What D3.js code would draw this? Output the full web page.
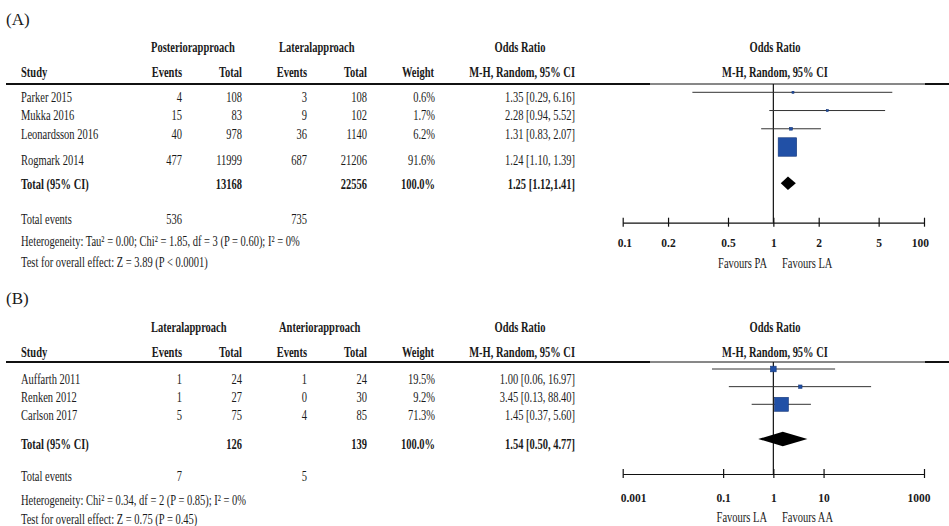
<!DOCTYPE html>
<html><head><meta charset="utf-8">
<script src="https://cdn.jsdelivr.net/npm/d3@7"></script>
<style>
html,body{margin:0;padding:0;background:#fff;}
svg{display:block;}
text{font-family:"Liberation Serif","Times New Roman",serif;fill:#1a1a1a;}
</style></head>
<body>
<svg id="c" width="949" height="526"></svg>
<script>
// ---------- DATA: Panel A (Posterior vs Lateral) ----------
const studiesA   = ["Parker 2015","Mukka 2016","Leonardsson 2016","Rogmark 2014"];
const eventsPA   = [4, 15, 40, 477];
const totalPA    = [108, 83, 978, 11999];
const eventsLA_A = [3, 9, 36, 687];
const totalLA_A  = [108, 102, 1140, 21206];
const weightA    = [0.6, 1.7, 6.2, 91.6];
const orA        = [1.35, 2.28, 1.31, 1.24];
const loA        = [0.29, 0.94, 0.83, 1.10];
const hiA        = [6.16, 5.52, 2.07, 1.39];
const pooledA    = [1.25, 1.12, 1.41];
const totalsA    = [13168, 22556];
const totWeightA = 100.0;
const totEventsA = [536, 735];
const groupsA    = ["Posteriorapproach", "Lateralapproach"];
const hetA       = "Heterogeneity: Tau² = 0.00; Chi² = 1.85, df = 3 (P = 0.60); I² = 0%";
const testA      = "Test for overall effect: Z = 3.89 (P < 0.0001)";
const ticksA     = [0.1, 0.2, 0.5, 1, 2, 5, 10];
const tickLabA   = ["0.1", "0.2", "0.5", "1", "2", "5", "100"];
const favoursA   = ["Favours PA", "Favours LA"];

// ---------- DATA: Panel B (Lateral vs Anterior) ----------
const studiesB   = ["Auffarth 2011","Renken 2012","Carlson 2017"];
const eventsLA_B = [1, 1, 5];
const totalLA_B  = [24, 27, 75];
const eventsAA   = [1, 0, 4];
const totalAA    = [24, 30, 85];
const weightB    = [19.5, 9.2, 71.3];
const orB        = [1.00, 3.45, 1.45];
const loB        = [0.06, 0.13, 0.37];
const hiB        = [16.97, 88.40, 5.60];
const pooledB    = [1.54, 0.50, 4.77];
const totalsB    = [126, 139];
const totWeightB = 100.0;
const totEventsB = [7, 5];
const groupsB    = ["Lateralapproach", "Anteriorapproach"];
const hetB       = "Heterogeneity: Chi² = 0.34, df = 2 (P = 0.85); I² = 0%";
const testB      = "Test for overall effect: Z = 0.75 (P = 0.45)";
const ticksB     = [0.001, 0.1, 1, 10, 1000];
const tickLabB   = ["0.001", "0.1", "1", "10", "1000"];
const favoursB   = ["Favours LA", "Favours AA"];

// ---------- DRAWING ----------
const svg = d3.select("#c");
const SX = 0.70, FS = 15;
const f2 = d3.format(".2f"), f1 = d3.format(".1f");

function txt(g, x, y, s, o = {}) {
  return g.append("text")
    .attr("transform", `translate(${x},${y}) scale(${o.sx ?? SX},1)`)
    .attr("text-anchor", o.anchor || "start")
    .attr("font-size", o.size || FS)
    .attr("font-weight", o.bold ? "bold" : "normal")
    .text(s);
}

function panel(p) {
  const g = svg.append("g");
  const L = p.L;
  // panel label
  txt(g, 6, L.label, p.name, {sx: 1, size: 17});
  // group headers
  txt(g, 151, L.group, p.groups[0], {bold: true});
  txt(g, 279, L.group, p.groups[1], {bold: true});
  txt(g, 520, L.group, "Odds Ratio", {bold: true, anchor: "middle"});
  txt(g, 775, L.group, "Odds Ratio", {bold: true, anchor: "middle"});
  // column headers
  txt(g, 21, L.head, "Study", {bold: true});
  txt(g, 182, L.head, "Events", {bold: true, anchor: "end"});
  txt(g, 242, L.head, "Total", {bold: true, anchor: "end"});
  txt(g, 307, L.head, "Events", {bold: true, anchor: "end"});
  txt(g, 367, L.head, "Total", {bold: true, anchor: "end"});
  txt(g, 434, L.head, "Weight", {bold: true, anchor: "end"});
  txt(g, 575, L.head, "M-H, Random, 95% CI", {bold: true, anchor: "end"});
  txt(g, 775, L.head, "M-H, Random, 95% CI", {bold: true, anchor: "middle"});
  // header rule
  g.append("line").attr("x1", 6).attr("x2", 650).attr("y1", L.rule).attr("y2", L.rule)
    .attr("stroke", "#111").attr("stroke-width", 2);
  g.append("line").attr("x1", 650).attr("x2", 925).attr("y1", L.rule).attr("y2", L.rule)
    .attr("stroke", "#111").attr("stroke-width", 1);
  g.append("line").attr("x1", 925).attr("x2", 949).attr("y1", L.rule).attr("y2", L.rule)
    .attr("stroke", "#111").attr("stroke-width", 2);

  // study rows (text)
  p.studies.forEach((s, i) => {
    const y = L.rows[i];
    txt(g, 21, y, s);
    txt(g, 182, y, p.e1[i], {anchor: "end"});
    txt(g, 242, y, p.t1[i], {anchor: "end"});
    txt(g, 307, y, p.e2[i], {anchor: "end"});
    txt(g, 367, y, p.t2[i], {anchor: "end"});
    txt(g, 435, y, f1(p.w[i]) + "%", {anchor: "end"});
    txt(g, 575, y, `${f2(p.or[i])} [${f2(p.lo[i])}, ${f2(p.hi[i])}]`, {anchor: "end"});
  });
  // total row
  txt(g, 21, L.total, "Total (95% CI)", {bold: true});
  txt(g, 242, L.total, p.totals[0], {bold: true, anchor: "end"});
  txt(g, 367, L.total, p.totals[1], {bold: true, anchor: "end"});
  txt(g, 435, L.total, f1(p.totW) + "%", {bold: true, anchor: "end"});
  txt(g, 575, L.total, `${f2(p.pooled[0])} [${f2(p.pooled[1])},${p.sep}${f2(p.pooled[2])}]`, {bold: true, anchor: "end"});
  // total events / heterogeneity / test
  txt(g, 21, L.tev, "Total events");
  txt(g, 182, L.tev, p.tev[0], {anchor: "end"});
  txt(g, 307, L.tev, p.tev[1], {anchor: "end"});
  txt(g, 21, L.het, p.het);
  txt(g, 21, L.test, p.test);

  // ---- forest plot ----
  const x = d3.scaleLog().domain(p.domain).range([622.7, 924]);
  const y = d3.scalePoint().domain(p.studies).range(L.plotRows);
  const size = d3.scalePow().exponent(0.7).domain([0, d3.max(p.w)]).range([0, L.maxBox]);
  const rows = p.studies.map((s, i) => ({s, or: p.or[i], lo: p.lo[i], hi: p.hi[i], w: p.w[i]}));

  // null line
  g.append("line").attr("x1", x(1)).attr("x2", x(1)).attr("y1", L.rule).attr("y2", L.axis)
    .attr("stroke", "#111").attr("stroke-width", 1.2);
  // CIs
  g.selectAll(".ci").data(rows).join("line").attr("class", "ci")
    .attr("x1", d => x(d.lo)).attr("x2", d => x(d.hi))
    .attr("y1", d => y(d.s)).attr("y2", d => y(d.s))
    .attr("stroke", "#333").attr("stroke-width", 1);
  // boxes
  g.selectAll(".box").data(rows).join("rect").attr("class", "box")
    .attr("x", d => x(d.or) - Math.max(2, size(d.w)) / 2)
    .attr("y", d => y(d.s) - Math.max(2, size(d.w)) / 2)
    .attr("width", d => Math.max(2, size(d.w)))
    .attr("height", d => Math.max(2, size(d.w)))
    .attr("fill", "#2150a6").attr("stroke", "#17387a").attr("stroke-width", 0.6);
  // diamond
  const dy = L.diamond, hh = L.dh;
  g.append("path")
    .attr("d", `M${x(p.pooled[1])},${dy} L${x(p.pooled[0])},${dy - hh} L${x(p.pooled[2])},${dy} L${x(p.pooled[0])},${dy + hh} Z`)
    .attr("fill", "#000");

  // axis
  const ax = g.append("g").attr("transform", `translate(0,${L.axis})`)
    .call(d3.axisBottom(x).tickValues(p.ticks).tickSize(4).tickSizeOuter(0)
      .tickFormat((d, i) => p.tickLab[i]));
  ax.select(".domain").attr("stroke", "#111").attr("stroke-width", 1.2);
  ax.selectAll(".tick line").attr("y1", -5).attr("y2", 4).attr("stroke", "#111").attr("stroke-width", 1.2);
  const n = p.ticks.length;
  ax.selectAll(".tick text")
    .attr("y", L.tickLab - L.axis).attr("dy", 0)
    .attr("font-size", 11.5).attr("font-weight", "bold")
    .attr("font-family", '"Liberation Serif", serif').attr("fill", "#111")
    .attr("text-anchor", (d, i) => i === 0 ? "start" : i === n - 1 ? "end" : "middle")
    .attr("dx", (d, i) => i === 0 ? p.edge[0] : i === n - 1 ? p.edge[1] : 0);
  // favours
  txt(g, 767, L.fav, p.favours[0], {anchor: "end"});
  txt(g, 782, L.fav, p.favours[1]);
}

panel({
  name: "(A)", groups: groupsA, studies: studiesA,
  e1: eventsPA, t1: totalPA, e2: eventsLA_A, t2: totalLA_A, w: weightA,
  or: orA, lo: loA, hi: hiA, pooled: pooledA, sep: "", totals: totalsA, totW: totWeightA, tev: totEventsA,
  het: hetA, test: testA, ticks: ticksA, tickLab: tickLabA, favours: favoursA,
  domain: [0.1, 10], edge: [-5.5, 4.5],
  L: {label: 25, group: 52, head: 77, rule: 84, rows: [102, 120, 139, 165],
      total: 189, tev: 224, het: 246, test: 267,
      plotRows: [92.3, 147], maxBox: 18.5, diamond: 183.3, dh: 6.7,
      axis: 222.7, tickLab: 246.7, fav: 267.5}
});
panel({
  name: "(B)", groups: groupsB, studies: studiesB,
  e1: eventsLA_B, t1: totalLA_B, e2: eventsAA, t2: totalAA, w: weightB,
  or: orB, lo: loB, hi: hiB, pooled: pooledB, sep: " ", totals: totalsB, totW: totWeightB, tev: totEventsB,
  het: hetB, test: testB, ticks: ticksB, tickLab: tickLabB, favours: favoursB,
  domain: [0.001, 1000], edge: [-2.5, 6],
  L: {label: 304, group: 332, head: 357, rule: 362, rows: [384, 402, 420],
      total: 449, tev: 481, het: 505, test: 524,
      plotRows: [369, 404.3], maxBox: 14, diamond: 439, dh: 7.2,
      axis: 474, tickLab: 501.7, fav: 521.7}
});
</script>
</body></html>
